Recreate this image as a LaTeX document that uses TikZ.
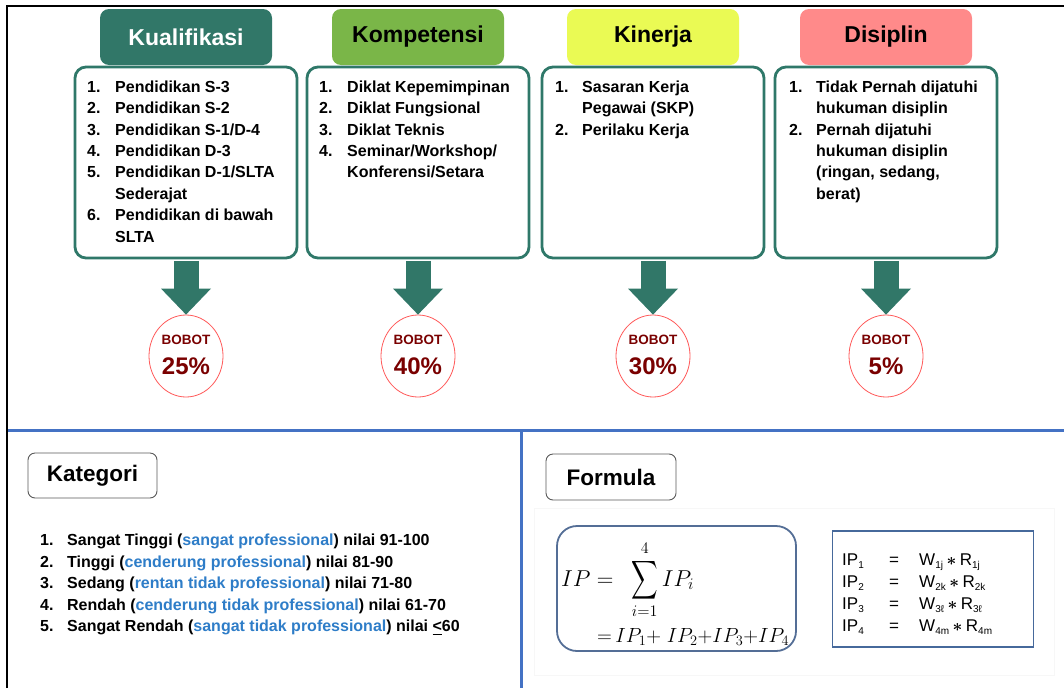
\RequirePackage{fix-cm}
\documentclass[tikz,border=0pt]{standalone}
\usepackage{exscale}
\usepackage{fontspec}
\setmainfont{Liberation Sans}
\usetikzlibrary{shapes.geometric,arrows.meta,calc}
\definecolor{tealh}{RGB}{49,119,104}
\definecolor{tealb}{RGB}{47,120,105}
\definecolor{greenh}{RGB}{122,182,72}
\definecolor{yellowh}{RGB}{234,250,84}
\definecolor{pinkh}{RGB}{255,138,138}
\definecolor{circred}{RGB}{255,90,90}
\definecolor{bobred}{RGB}{122,0,0}
\definecolor{blueline}{RGB}{68,114,196}
\definecolor{katblue}{RGB}{46,125,200}
\definecolor{fblue}{RGB}{84,110,150}
\definecolor{ipblue}{RGB}{70,105,155}
\newcommand\lsub[1]{\raisebox{-3.5pt}{\fontsize{10}{10}\selectfont #1}}
\newcommand\ipstar{\hspace{3.5pt}$\boldsymbol{\ast}$\hspace{3.5pt}}
\newcommand\bigsumop{\mathop{\vcenter{\hbox{\scalebox{0.74}[1.08]{$\displaystyle\sum$}}}}\limits}
\usepackage{amsmath,amsbsy}
\begin{document}
\begin{tikzpicture}[x=1pt,y=-1pt,
  hdr/.style={rounded corners=9pt, minimum width=172pt, minimum height=56pt, inner sep=0pt, font=\fontsize{23}{23}\selectfont\bfseries},
  lbox/.style={draw=tealb, line width=2.8pt, rounded corners=11pt, fill=white, minimum width=222pt, minimum height=191pt, inner sep=0pt},
  ltxt/.style={anchor=north west, inner sep=0pt, align=left, font=\fontsize{16}{21.4}\selectfont\bfseries},
  bob/.style={ellipse, draw=circred, line width=0.8pt, fill=white, minimum width=74pt, minimum height=82pt, inner sep=0pt},
  bobt/.style={text=bobred, font=\fontsize{13.5}{13.5}\selectfont\bfseries, inner sep=0pt},
  bobp/.style={text=bobred, font=\fontsize{24}{24}\selectfont\bfseries, inner sep=0pt},
  blk/.style={draw=tealh, line width=25pt, -{Triangle[width=50pt,length=26pt,line width=0pt]}},
  ttl/.style={draw=gray!70!black, line width=0.9pt, rounded corners=7pt, fill=white, inner sep=0pt, font=\fontsize{22.5}{22.5}\selectfont\bfseries},
  iptxt/.style={inner sep=0pt, font=\fontsize{17}{17}\selectfont},
  fm/.style={inner sep=0pt, font=\fontsize{23}{23}\selectfont},
]
\useasboundingbox (0,0) rectangle (1064,688);
\fill[white] (0,0) rectangle (1064,688);
% frame lines
\draw[line width=2pt] (7,688) -- (7,6) -- (1064,6);
\draw[blueline, line width=3pt] (8,430) -- (1064,430);
\draw[blueline, line width=3pt] (521,430) -- (521,688);

% headers
\node[hdr, fill=tealh, text=white] (h1) at (186,37) {Kualifikasi};
\node[hdr, fill=greenh] (h2) at (418,37) {Kompetensi};
\node[hdr, fill=yellowh] (h3) at (653,37) {Kinerja};
\node[hdr, fill=pinkh] (h4) at (886,37) {Disiplin};

% list boxes
\node[lbox] (b1) at (186,162.5) {};
\node[lbox] (b2) at (418,162.5) {};
\node[lbox] (b3) at (653,162.5) {};
\node[lbox] (b4) at (886,162.5) {};

\node[ltxt] (t1) at (87,77) {\rule{0pt}{15pt}\makebox[28pt][l]{1.}Pendidikan S-3\\
\makebox[28pt][l]{2.}Pendidikan S-2\\
\makebox[28pt][l]{3.}Pendidikan S-1/D-4\\
\makebox[28pt][l]{4.}Pendidikan D-3\\
\makebox[28pt][l]{5.}Pendidikan D-1/SLTA\\
\hspace*{28pt}Sederajat\\
\makebox[28pt][l]{6.}Pendidikan di bawah\\
\hspace*{28pt}SLTA};

\node[ltxt] (t2) at (319,77) {\rule{0pt}{15pt}\makebox[28pt][l]{1.}Diklat Kepemimpinan\\
\makebox[28pt][l]{2.}Diklat Fungsional\\
\makebox[28pt][l]{3.}Diklat Teknis\\
\makebox[28pt][l]{4.}Seminar/Workshop/\\
\hspace*{28pt}Konferensi/Setara};

\node[ltxt] (t3) at (555,77) {\rule{0pt}{15pt}\makebox[27pt][l]{1.}Sasaran Kerja\\
\hspace*{27pt}Pegawai (SKP)\\
\makebox[27pt][l]{2.}Perilaku Kerja};

\node[ltxt] (t4) at (789,77) {\rule{0pt}{15pt}\makebox[27pt][l]{1.}Tidak Pernah dijatuhi\\
\hspace*{27pt}hukuman disiplin\\
\makebox[27pt][l]{2.}Pernah dijatuhi\\
\hspace*{27pt}hukuman disiplin\\
\hspace*{27pt}(ringan, sedang,\\
\hspace*{27pt}berat)};

% bobot circles
\node[bob] (c1) at (186,356) {};
\node[bob] (c2) at (418,356) {};
\node[bob] (c3) at (653,356) {};
\node[bob] (c4) at (886,356) {};
\foreach \k/\p in {1/25,2/40,3/30,4/5}{
  \draw[blk] ($(b\k.south)+(0,1.4)$) -- (c\k.north);
  \node[bobt] (bt\k) at ($(c\k.center)+(0,-16)$) {BOBOT};
  \node[bobp] (bp\k) at ($(c\k.center)+(0,10)$) {\p\%};
}

% Kategori
\node[ttl, minimum width=129pt, minimum height=45pt] (kat) at (92.5,475.5) {Kategori};
\node[anchor=north west, inner sep=0pt, align=left, font=\fontsize{16}{21.5}\selectfont\bfseries] (katl) at (40,530.5)
{\rule{0pt}{15pt}\makebox[27pt][l]{1.}Sangat Tinggi (\textcolor{katblue}{sangat professional}) nilai 91-100\\
\makebox[27pt][l]{2.}Tinggi (\textcolor{katblue}{cenderung professional}) nilai 81-90\\
\makebox[27pt][l]{3.}Sedang (\textcolor{katblue}{rentan tidak professional}) nilai 71-80\\
\makebox[27pt][l]{4.}Rendah (\textcolor{katblue}{cenderung tidak professional}) nilai 61-70\\
\makebox[27pt][l]{5.}Sangat Rendah (\textcolor{katblue}{sangat tidak professional}) nilai \underline{<}60};

% Formula
\node[ttl, minimum width=130pt, minimum height=46pt] (form) at (611,477) {Formula};
\node[draw=gray!6, line width=0.8pt, minimum width=520pt, minimum height=167pt, inner sep=0pt] (fbg) at (794,591.5) {};
\node[draw=fblue, line width=1.8pt, rounded corners=20pt, minimum width=239pt, minimum height=125pt, inner sep=0pt] (fbox) at (676.5,588.5) {};
\node[fm, anchor=base west] (f1) at (561,586) {$\displaystyle IP=\mkern9mu\bigsumop_{i=1}^{4}IP_i$};
\node[inner sep=0pt, font=\fontsize{20.5}{20.5}\selectfont, anchor=base west] (f2) at (597,642) {${=}\,IP_1{+}\;IP_2{+}IP_3{+}IP_4$};

% IP table
\node[draw=ipblue, line width=1.8pt, minimum width=201pt, minimum height=116pt, inner sep=0pt] (ipbox) at (933,589) {};
\node[iptxt, anchor=base west] (ip1) at (842,565) {IP\lsub{1}};
\node[iptxt, anchor=base] (e1) at (894,565) {=};
\node[iptxt, anchor=base west] (r1) at (919,565) {W\lsub{1j}\ipstar R\lsub{1j}};
\node[iptxt, anchor=base west] (ip2) at (842,587) {IP\lsub{2}};
\node[iptxt, anchor=base] (e2) at (894,587) {=};
\node[iptxt, anchor=base west] (r2) at (919,587) {W\lsub{2k}\ipstar R\lsub{2k}};
\node[iptxt, anchor=base west] (ip3) at (842,609) {IP\lsub{3}};
\node[iptxt, anchor=base] (e3) at (894,609) {=};
\node[iptxt, anchor=base west] (r3) at (919,609) {W\lsub{3ℓ}\ipstar R\lsub{3ℓ}};
\node[iptxt, anchor=base west] (ip4) at (842,631) {IP\lsub{4}};
\node[iptxt, anchor=base] (e4) at (894,631) {=};
\node[iptxt, anchor=base west] (r4) at (919,631) {W\lsub{4m}\ipstar R\lsub{4m}};
\end{tikzpicture}
\end{document}
